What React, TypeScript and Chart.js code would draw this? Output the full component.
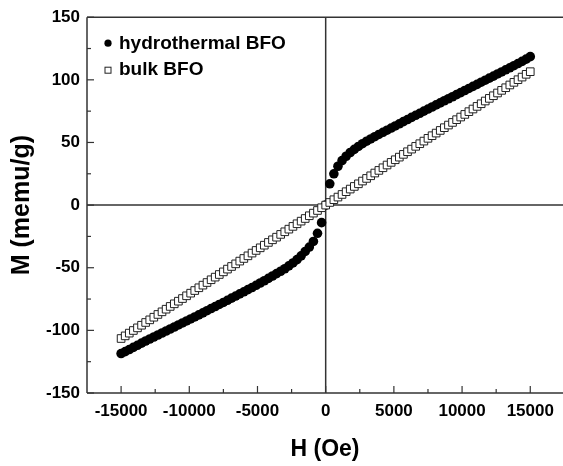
import { useEffect, useRef } from "react";
import { Chart, registerables } from "chart.js";

Chart.register(...registerables);

// ---- data ----
const fieldOe = [
  -15000, -14700, -14400, -14100, -13800, -13500, -13200, -12900, -12600, -12300,
  -12000, -11700, -11400, -11100, -10800, -10500, -10200, -9900, -9600, -9300,
  -9000, -8700, -8400, -8100, -7800, -7500, -7200, -6900, -6600, -6300,
  -6000, -5700, -5400, -5100, -4800, -4500, -4200, -3900, -3600, -3300,
  -3000, -2700, -2400, -2100, -1800, -1500, -1200, -900, -600, -300,
  0,
  300, 600, 900, 1200, 1500, 1800, 2100, 2400, 2700, 3000,
  3300, 3600, 3900, 4200, 4500, 4800, 5100, 5400, 5700, 6000,
  6300, 6600, 6900, 7200, 7500, 7800, 8100, 8400, 8700, 9000,
  9300, 9600, 9900, 10200, 10500, 10800, 11100, 11400, 11700, 12000,
  12300, 12600, 12900, 13200, 13500, 13800, 14100, 14400, 14700, 15000,
];

const hydrothermalM = [
  -118.5, -117, -115.3, -113.6, -111.9, -110.2, -108.5, -106.9, -105.3, -103.7,
  -102.1, -100.5, -98.9, -97.3, -95.7, -94.1, -92.5, -90.9, -89.3, -87.6,
  -86, -84.3, -82.6, -81, -79.3, -77.7, -76, -74.3, -72.6, -70.9,
  -69.2, -67.5, -65.8, -64, -62.2, -60.4, -58.5, -56.6, -54.7, -52.8,
  -50.8, -48.5, -46.2, -43.5, -40.5, -37, -33.5, -29, -22.5, -14,
  0,
  17, 25, 31, 35.5, 39, 42, 44.5, 46.8, 49, 51,
  52.8, 54.6, 56.4, 58.1, 59.8, 61.5, 63.2, 64.9, 66.6, 68.3,
  70, 71.7, 73.3, 75, 76.7, 78.3, 80, 81.6, 83.3, 84.9,
  86.5, 88.2, 89.8, 91.5, 93.1, 94.8, 96.4, 98.1, 99.7, 101.4,
  103, 104.7, 106.3, 108, 109.6, 111.3, 113, 114.7, 116.5, 118.5,
];

const bulkM = [
  -106.5, -104.4, -102.2, -100.1, -98, -95.9, -93.7, -91.6, -89.5, -87.3,
  -85.2, -83.1, -80.9, -78.8, -76.7, -74.6, -72.4, -70.3, -68.2, -66,
  -63.9, -61.8, -59.6, -57.5, -55.4, -53.3, -51.1, -49, -46.9, -44.7,
  -42.6, -40.5, -38.3, -36.2, -34.1, -32, -29.8, -27.7, -25.6, -23.4,
  -21.3, -19.2, -17, -14.9, -12.8, -10.7, -8.5, -6.4, -4.3, -2.1,
  0,
  2.1, 4.3, 6.4, 8.5, 10.7, 12.8, 14.9, 17, 19.2, 21.3,
  23.4, 25.6, 27.7, 29.8, 32, 34.1, 36.2, 38.3, 40.5, 42.6,
  44.7, 46.9, 49, 51.1, 53.3, 55.4, 57.5, 59.6, 61.8, 63.9,
  66, 68.2, 70.3, 72.4, 74.6, 76.7, 78.8, 80.9, 83.1, 85.2,
  87.3, 89.5, 91.6, 93.7, 95.9, 98, 100.1, 102.2, 104.4, 106.5,
];

const seriesLabels = ["hydrothermal BFO", "bulk BFO"];
const xTickValues = [-15000, -10000, -5000, 0, 5000, 10000, 15000];
const xMinorValues = [-12500, -7500, -2500, 2500, 7500, 12500];
const yTickValues = [-150, -100, -50, 0, 50, 100, 150];
const yMinorValues = [-125, -75, -25, 25, 75, 125];
const xTitle = "H (Oe)";
const yTitle = "M (memu/g)";

const FONT = '"Liberation Sans", Arial, Helvetica, sans-serif';
const AXIS_COLOR = "#333";

const framePlugin = {
  id: "frame",
  beforeDatasetsDraw(chart: any) {
    const { ctx, chartArea: a, scales } = chart;
    const x = scales.x;
    const y = scales.y;
    const line = (x1: number, y1: number, x2: number, y2: number) => {
      ctx.beginPath();
      ctx.moveTo(x1, y1);
      ctx.lineTo(x2, y2);
      ctx.stroke();
    };
    ctx.save();
    ctx.strokeStyle = AXIS_COLOR;
    ctx.lineWidth = 1.5;
    const x0 = x.getPixelForValue(0);
    const y0 = y.getPixelForValue(0);
    line(a.left, y0, a.right, y0);
    line(x0, a.top, x0, a.bottom);
    line(a.left, a.top, a.left, a.bottom);
    line(a.left, a.bottom, a.right, a.bottom);
    line(a.left, a.top, a.right, a.top);
    ctx.lineWidth = 1.2;
    xTickValues.forEach((v) => {
      const p = x.getPixelForValue(v);
      line(p, a.bottom, p, a.bottom - 7);
    });
    xMinorValues.forEach((v) => {
      const p = x.getPixelForValue(v);
      line(p, a.bottom, p, a.bottom - 4);
    });
    yTickValues.forEach((v) => {
      const p = y.getPixelForValue(v);
      line(a.left, p, a.left + 7, p);
    });
    yMinorValues.forEach((v) => {
      const p = y.getPixelForValue(v);
      line(a.left, p, a.left + 4, p);
    });
    ctx.restore();
  },
  afterDraw(chart: any) {
    const { ctx, chartArea: a } = chart;
    ctx.save();
    const mx = a.left + 21;
    ctx.fillStyle = "#000";
    ctx.beginPath();
    ctx.arc(mx, a.top + 26, 3.6, 0, Math.PI * 2);
    ctx.fill();
    ctx.fillStyle = "#fff";
    ctx.strokeStyle = "#222";
    ctx.lineWidth = 1;
    ctx.fillRect(mx - 3, a.top + 50, 6, 6);
    ctx.strokeRect(mx - 3, a.top + 50, 6, 6);
    ctx.fillStyle = "#000";
    ctx.font = `bold 19px ${FONT}`;
    ctx.textBaseline = "alphabetic";
    ctx.textAlign = "left";
    ctx.fillText(seriesLabels[0], mx + 11, a.top + 32);
    ctx.fillText(seriesLabels[1], mx + 11, a.top + 58);
    ctx.restore();
  },
};

export default function App() {
  const canvasRef = useRef<HTMLCanvasElement | null>(null);

  useEffect(() => {
    const canvas = canvasRef.current;
    if (!canvas) return;
    const hydroData = fieldOe.map((h, i) => ({ x: h, y: hydrothermalM[i] }));
    const bulkData = fieldOe.map((h, i) => ({ x: h, y: bulkM[i] }));
    const tickFont = { family: FONT, size: 17, weight: "bold" as const };

    const chart = new Chart(canvas, {
      type: "scatter",
      data: {
        datasets: [
          {
            label: seriesLabels[0],
            data: hydroData,
            order: 2,
            pointStyle: "circle",
            pointRadius: 4.8,
            pointBackgroundColor: "#000",
            pointBorderColor: "#000",
            pointBorderWidth: 0,
            showLine: false,
          },
          {
            label: seriesLabels[1],
            data: bulkData,
            order: 1,
            pointStyle: "rect",
            pointRadius: 5.4,
            pointBackgroundColor: "#fff",
            pointBorderColor: "#222",
            pointBorderWidth: 1,
            showLine: false,
          },
        ],
      },
      options: {
        responsive: false,
        animation: false,
        devicePixelRatio: 1,
        layout: { autoPadding: false, padding: { top: 16, right: 0, left: 0, bottom: 0 } },
        plugins: {
          legend: { display: false },
          tooltip: { enabled: false },
        },
        scales: {
          x: {
            type: "linear",
            min: -17500,
            max: 17400,
            afterBuildTicks: (s: any) => {
              s.ticks = xTickValues.map((v) => ({ value: v }));
            },
            afterFit: (s: any) => {
              s.height = 73;
              s.paddingLeft = 0;
              s.paddingRight = 0;
            },
            grid: { display: false, drawTicks: false },
            border: { display: false },
            ticks: {
              font: tickFont,
              color: "#000",
              padding: 8,
              maxRotation: 0,
              autoSkip: false,
              callback: (v: any) => String(v),
            },
            title: {
              display: true,
              text: xTitle,
              font: { family: FONT, size: 23, weight: "bold" as const },
              color: "#000",
              padding: { top: 0, bottom: 3 },
            },
          },
          y: {
            type: "linear",
            min: -150,
            max: 150,
            afterBuildTicks: (s: any) => {
              s.ticks = yTickValues.map((v) => ({ value: v }));
            },
            afterFit: (s: any) => {
              s.width = 87;
            },
            grid: { display: false, drawTicks: false },
            border: { display: false },
            ticks: {
              font: tickFont,
              color: "#000",
              padding: 7,
              autoSkip: false,
              callback: (v: any) => String(v),
            },
            title: {
              display: true,
              text: yTitle,
              font: { family: FONT, size: 25, weight: "bold" as const },
              color: "#000",
              padding: { top: 7, bottom: 0 },
            },
          },
        },
      },
      plugins: [framePlugin],
    });
    return () => chart.destroy();
  }, []);

  return (
    <div style={{ position: "fixed", left: 0, top: 0, width: 563, height: 466, background: "#fff" }}>
      <canvas ref={canvasRef} width={563} height={466} />
    </div>
  );
}
